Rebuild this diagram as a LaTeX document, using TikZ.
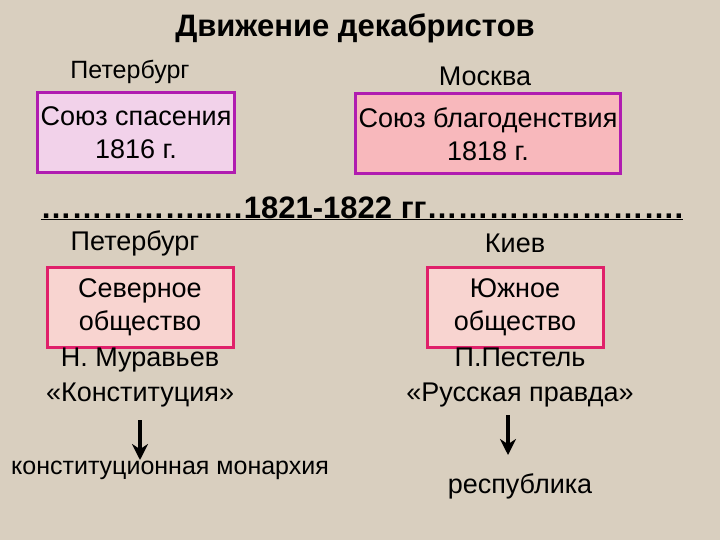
\documentclass[tikz,border=0pt]{standalone}
\usepackage{fontspec}
\setmainfont{Liberation Sans}
\definecolor{bg}{HTML}{D9CFBF}
\definecolor{pur}{HTML}{B01CB0}
\definecolor{crim}{HTML}{E0206A}
\definecolor{lav}{HTML}{F2D2EA}
\definecolor{pnk}{HTML}{F8B8BC}
\definecolor{lpnk}{HTML}{F8D4D0}
\tikzset{
  box/.style={draw, line width=3pt, minimum height=80pt, align=center, font=\fontsize{27}{33}\selectfont, inner sep=3pt},
  lbl/.style={font=\fontsize{27}{33}\selectfont, align=center},
  arr/.style={-{Stealth[length=16pt,width=16pt]}, line width=3.5pt}
}
\usetikzlibrary{arrows.meta}
\begin{document}
\begin{tikzpicture}[x=1pt,y=-1pt]
\fill[bg] (0,0) rectangle (720,540);
\useasboundingbox (0,0) rectangle (720,540);
\node[font=\fontsize{31}{36}\selectfont\bfseries] (t) at (355,28) {Движение декабристов};
\node[lbl, font=\fontsize{25}{30}\selectfont] (p1) at (130,72) {Петербург};
\node[lbl] (m) at (485,76) {Москва};
\node[box, fill=lav, draw=pur, minimum width=197pt] (b1) at (136,133) {Союз спасения\\1816 г.};
\node[box, fill=pnk, draw=pur, minimum width=265pt] (b2) at (488,134) {Союз благоденствия\\1818 г.};
\node[font=\fontsize{31}{36}\selectfont\bfseries, inner xsep=0pt] (d) at (362,208) {\dots\dots\dots\dots\dots..\dots 1821-1822 гг\dots\dots\dots\dots\dots\dots\dots\dots.};
\draw[line width=1.5pt] (d.south west) ++(0,-3) coordinate (u1) -- (d.south east |- u1) coordinate (u2);
\node[lbl] (p2) at (135,243) {Петербург};
\node[lbl] (k) at (515,243) {Киев};
\node[box, fill=lpnk, draw=crim, minimum width=186pt] (b3) at (140,307) {Северное\\общество};
\node[box, fill=lpnk, draw=crim, minimum width=176pt] (b4) at (515,307) {Южное\\общество};
\node[lbl, anchor=north, font=\fontsize{27}{35}\selectfont] (n) at (140,344) {Н. Муравьев\\«Конституция»};
\node[lbl, anchor=north, font=\fontsize{27}{35}\selectfont] (pp) at (520,344) {П.Пестель\\«Русская правда»};
\node[lbl, font=\fontsize{25}{30}\selectfont] (cm) at (170,470) {конституционная монархия};
\node[lbl] (r) at (520,486) {республика};
\coordinate (a1) at (140,420); \coordinate (a2) at (508,415);
\draw[arr] (a1) -- ++(0,40) coordinate (a1e);
\draw[arr] (a2) -- ++(0,40) coordinate (a2e);
\end{tikzpicture}
\end{document}
